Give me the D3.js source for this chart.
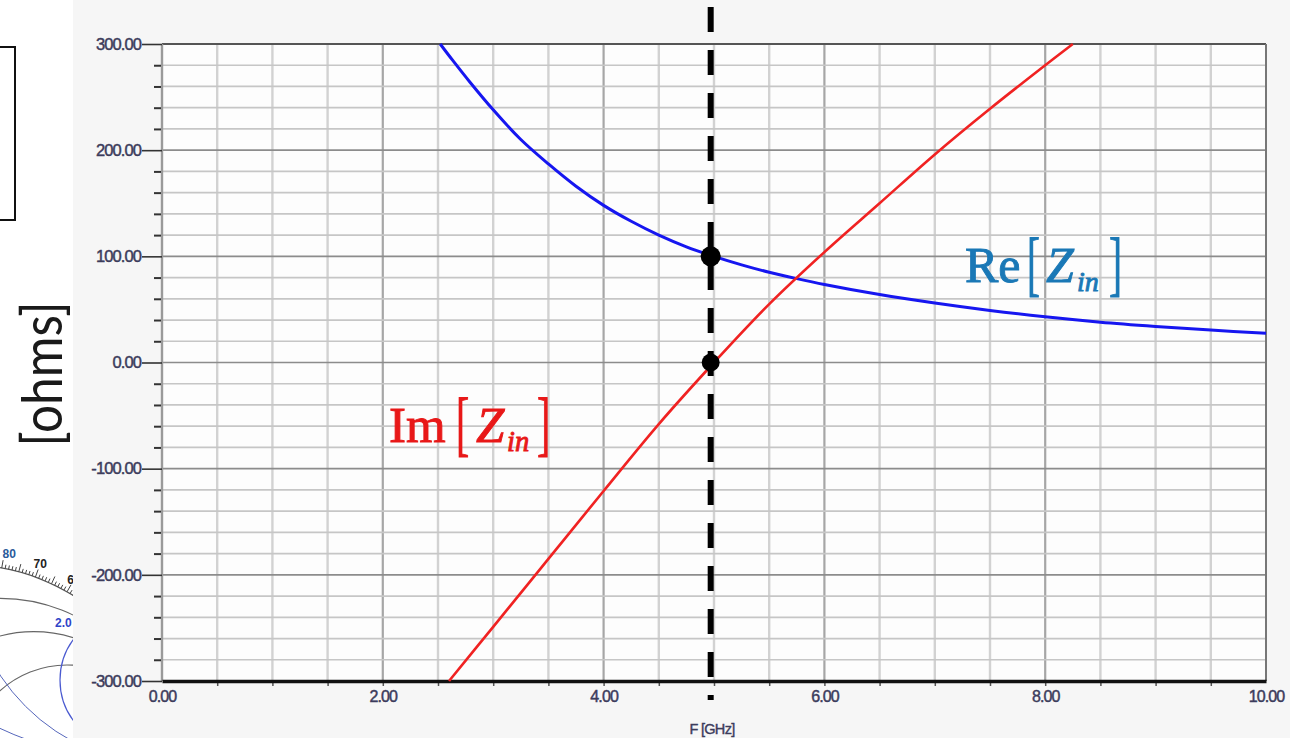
<!DOCTYPE html>
<html>
<head>
<meta charset="utf-8">
<script src="https://cdn.jsdelivr.net/npm/d3@7"></script>
<style>
  body { margin: 0; background: #fff; }
  svg { display: block; }
</style>
</head>
<body>
<svg id="chart" width="1290" height="738"></svg>
<script>
// Re[Zin] (blue) versus frequency
const reFreq = [2.52, 2.63, 2.79, 3.0, 3.25, 3.5, 3.75, 4.0, 4.25, 4.5, 4.75, 5.0, 5.25, 5.5, 5.75, 6.0, 6.5, 7.0, 7.5, 8.0, 8.5, 9.0, 9.5, 10.0];
const reOhms = [300, 285, 264, 238, 210, 187, 166, 148, 133, 120, 109, 100, 92, 85, 79, 73.5, 64, 56, 49, 43, 38, 34, 30.5, 27.5];

// Im[Zin] (red) versus frequency
const imFreq = [2.6, 3.0, 3.5, 4.0, 4.5, 5.0, 5.5, 6.0, 6.5, 7.0, 7.5, 8.0, 8.25];
const imOhms = [-300, -249, -185, -121, -58, 0, 55, 104, 150, 196, 239, 280, 300];

// axis ticks and labels
const xTickValues = [0, 2, 4, 6, 8, 10];
const xTickLabels = ["0.00", "2.00", "4.00", "6.00", "8.00", "10.00"];
const yTickValues = [300, 200, 100, 0, -100, -200, -300];
const yTickLabels = ["300.00", "200.00", "100.00", "0.00", "-100.00", "-200.00", "-300.00"];

// marker at the design frequency
const markerFreq = 4.97;
const markerOhms = [100, 0];

const svg = d3.select("#chart");

const x = d3.scaleLinear().domain([0, 10]).range([162, 1266]);
const y = d3.scaleLinear().domain([-300, 300]).range([681, 44]);

// panel backgrounds
svg.append("rect").attr("x", 73).attr("y", 0).attr("width", 1217).attr("height", 738).attr("fill", "#f6f6f6");
svg.append("rect").attr("x", x(0)).attr("y", y(300)).attr("width", x(10) - x(0)).attr("height", y(-300) - y(300)).attr("fill", "#fdfdfd");

// ---- Smith chart fragment at the lower left ----
const sc = { x: -33, y: 765, r: 200 };
const defs = svg.append("defs");
defs.append("clipPath").attr("id", "smithClip")
  .append("rect").attr("x", 0).attr("y", 540).attr("width", 73).attr("height", 198);
defs.append("clipPath").attr("id", "smithInner")
  .append("circle").attr("cx", sc.x).attr("cy", sc.y).attr("r", sc.r);

const smith = svg.append("g").attr("clip-path", "url(#smithClip)");
smith.append("circle").attr("cx", sc.x).attr("cy", sc.y).attr("r", sc.r)
  .attr("fill", "none").attr("stroke", "#555").attr("stroke-width", 1.3);
const degs = d3.range(50, 96, 1);
smith.selectAll("line.deg").data(degs).join("line")
  .attr("x1", d => sc.x + sc.r * Math.cos(d * Math.PI / 180))
  .attr("y1", d => sc.y - sc.r * Math.sin(d * Math.PI / 180))
  .attr("x2", d => sc.x + (sc.r + (d % 5 === 0 ? 8 : 4)) * Math.cos(d * Math.PI / 180))
  .attr("y2", d => sc.y - (sc.r + (d % 5 === 0 ? 8 : 4)) * Math.sin(d * Math.PI / 180))
  .attr("stroke", "#444").attr("stroke-width", 1);
// angle labels; the 80 label is nudged right so it stays on the page
const degLabels = [["80", 80, "#2a5a9a", 5], ["70", 70, "#222", 0], ["60", 60, "#222", 0]];
smith.selectAll("text.deg").data(degLabels).join("text")
  .attr("x", d => sc.x + 214 * Math.cos(d[1] * Math.PI / 180) + d[3])
  .attr("y", d => sc.y + 4 - 214 * Math.sin(d[1] * Math.PI / 180))
  .attr("text-anchor", "middle").attr("font-family", "Liberation Sans, Arial, sans-serif")
  .attr("font-size", 12).attr("font-weight", "bold").attr("fill", d => d[2]).text(d => d[0]);

const inner = smith.append("g").attr("clip-path", "url(#smithInner)");
const resist = [0.2, 0.5, 1.0];
inner.selectAll("circle.r").data(resist).join("circle")
  .attr("cx", d => sc.x + sc.r * d / (1 + d)).attr("cy", sc.y).attr("r", d => sc.r / (1 + d))
  .attr("fill", "none").attr("stroke", "#666").attr("stroke-width", 1.1);
const react = [1.0, 0.5];
inner.selectAll("circle.x").data(react).join("circle")
  .attr("cx", sc.x + sc.r).attr("cy", d => sc.y - sc.r / d).attr("r", d => sc.r / d)
  .attr("fill", "none").attr("stroke", "#5566bb").attr("stroke-width", 1);
smith.append("circle").attr("cx", 128).attr("cy", 680).attr("r", 68)
  .attr("fill", "none").attr("stroke", "#4a5ad0").attr("stroke-width", 1.2);
smith.append("text").attr("x", 55).attr("y", 627)
  .attr("font-family", "Liberation Sans, Arial, sans-serif").attr("font-size", 12).attr("font-weight", "bold")
  .attr("fill", "#2f45c8").text("2.0");

// box at the upper left
svg.append("rect").attr("x", -5).attr("y", 47).attr("width", 20).attr("height", 173)
  .attr("fill", "none").attr("stroke", "#111").attr("stroke-width", 2);

// ---- grid ----
const grid = svg.append("g");
const vMinor = d3.range(0.5, 10, 0.5).filter(v => v % 2 !== 0);
const vMajor = [2, 4, 6, 8];
grid.selectAll("line.vmin").data(vMinor).join("line")
  .attr("x1", d => x(d)).attr("x2", d => x(d)).attr("y1", y(300)).attr("y2", y(-300))
  .attr("stroke", "#d2d2d2").attr("stroke-width", 2.4);
grid.selectAll("line.vmaj").data(vMajor).join("line")
  .attr("x1", d => x(d)).attr("x2", d => x(d)).attr("y1", y(300)).attr("y2", y(-300))
  .attr("stroke", "#a6a6a6").attr("stroke-width", 2.2);
const hMinor = d3.range(-280, 300, 20).filter(v => v % 100 !== 0);
const hMajor = [-200, -100, 0, 100, 200];
grid.selectAll("line.hmin").data(hMinor).join("line")
  .attr("x1", x(0)).attr("x2", x(10)).attr("y1", d => y(d)).attr("y2", d => y(d))
  .attr("stroke", "#c6c6c6").attr("stroke-width", 1.7);
grid.selectAll("line.hmaj").data(hMajor).join("line")
  .attr("x1", x(0)).attr("x2", x(10)).attr("y1", d => y(d)).attr("y2", d => y(d))
  .attr("stroke", "#8c8c8c").attr("stroke-width", 1.7);

// frame
svg.append("line").attr("x1", x(0)).attr("x2", x(10)).attr("y1", y(300)).attr("y2", y(300))
  .attr("stroke", "#555").attr("stroke-width", 2.2);
svg.append("line").attr("x1", x(10)).attr("x2", x(10)).attr("y1", y(300)).attr("y2", y(-300))
  .attr("stroke", "#777").attr("stroke-width", 2);
svg.append("line").attr("x1", x(0)).attr("x2", x(0)).attr("y1", y(300)).attr("y2", y(-300))
  .attr("stroke", "#9a9a9a").attr("stroke-width", 2.4);

// ---- axes ----
const tickFont = "Liberation Sans, Arial, sans-serif";
const labelInk = "#3c3c5c";
const yAxis = svg.append("g").attr("transform", `translate(${x(0)},0)`)
  .call(d3.axisLeft(y).tickValues(yTickValues).tickSize(20).tickPadding(1)
    .tickFormat((d, i) => yTickLabels[i]));
yAxis.select(".domain").remove();
yAxis.selectAll(".tick line").attr("stroke", "#333").attr("stroke-width", 1.6);
yAxis.selectAll(".tick text").attr("font-family", tickFont).attr("font-size", 16.5)
  .attr("letter-spacing", -0.9).attr("fill", labelInk)
  .attr("stroke", labelInk).attr("stroke-width", 0.45);

const yMinor = svg.append("g").attr("transform", `translate(${x(0) - 1},0)`)
  .call(d3.axisLeft(y).tickValues(hMinor).tickSize(7).tickFormat(""));
yMinor.select(".domain").remove();
yMinor.selectAll(".tick line").attr("stroke", "#333").attr("stroke-width", 2);

const xMinor = svg.append("g").attr("transform", `translate(0,${y(-300)})`)
  .call(d3.axisBottom(x).tickValues(d3.range(0.5, 10, 0.5)).tickSize(5).tickFormat(""));
xMinor.select(".domain").remove();
xMinor.selectAll(".tick line").attr("stroke", "#555").attr("stroke-width", 1.5);

const xAxis = svg.append("g").attr("transform", `translate(0,${y(-300)})`)
  .call(d3.axisBottom(x).tickValues(xTickValues).tickSize(0).tickPadding(10)
    .tickFormat((d, i) => xTickLabels[i]));
xAxis.select(".domain").attr("stroke", "#111").attr("stroke-width", 3.5);
xAxis.selectAll(".tick text").attr("font-family", tickFont).attr("font-size", 16)
  .attr("letter-spacing", -0.9).attr("fill", labelInk)
  .attr("stroke", labelInk).attr("stroke-width", 0.45);

svg.append("text").attr("x", 712).attr("y", 734).attr("text-anchor", "middle")
  .attr("font-family", tickFont).attr("font-size", 14.5).attr("letter-spacing", -0.7)
  .attr("fill", labelInk).attr("stroke", labelInk).attr("stroke-width", 0.4).text("F [GHz]");

// y axis unit label
svg.append("text").attr("transform", "translate(62,374) rotate(-90)")
  .attr("text-anchor", "middle").attr("font-family", "Lato, 'Open Sans', sans-serif")
  .attr("font-size", 56).attr("fill", "#1a1a1a")
  .attr("textLength", 145).attr("lengthAdjust", "spacingAndGlyphs")
  .text("[ohms]");

// ---- curves ----
const reData = reFreq.map((f, i) => [f, reOhms[i]]);
const imData = imFreq.map((f, i) => [f, imOhms[i]]);
const line = d3.line().x(d => x(d[0])).y(d => y(d[1])).curve(d3.curveCatmullRom);

svg.append("path").datum(reData).attr("d", line)
  .attr("fill", "none").attr("stroke", "#1616f0").attr("stroke-width", 3);
svg.append("path").datum(imData).attr("d", line)
  .attr("fill", "none").attr("stroke", "#f02222").attr("stroke-width", 2.6);

// dashed marker line and points
svg.append("line").attr("x1", x(markerFreq)).attr("x2", x(markerFreq)).attr("y1", 7).attr("y2", 700)
  .attr("stroke", "#000").attr("stroke-width", 6).attr("stroke-dasharray", "25 18");
svg.selectAll("circle.pt").data(markerOhms).join("circle")
  .attr("cx", x(markerFreq)).attr("cy", d => y(d)).attr("r", (d, i) => i === 0 ? 10 : 9)
  .attr("fill", "#000");

// ---- curve labels ----
function curveLabel(g, opts) {
  const serif = "Liberation Serif, 'Times New Roman', serif";
  const ink = (sel) => sel.attr("fill", opts.color).attr("stroke", opts.color).attr("stroke-width", 0.9);
  g.append("text").attr("x", opts.x).attr("y", opts.base).attr("font-family", serif)
    .attr("font-size", opts.size).call(ink).text(opts.name);
  g.append("text").attr("transform", `translate(${opts.lb},${opts.base + 5}) scale(0.55,1)`)
    .attr("font-family", serif).attr("font-size", opts.size * 1.42).call(ink).text("[");
  g.append("text").attr("x", opts.zx).attr("y", opts.base).attr("font-family", serif)
    .attr("font-style", "italic").attr("font-size", opts.size).call(ink).text("Z");
  g.append("text").attr("x", opts.zx + 31).attr("y", opts.base + 9).attr("font-family", serif)
    .attr("font-style", "italic").attr("font-size", opts.size * 0.56).call(ink).text("in");
  g.append("text").attr("transform", `translate(${opts.rb},${opts.base + 5}) scale(0.55,1)`)
    .attr("font-family", serif).attr("font-size", opts.size * 1.42).call(ink).text("]");
}
curveLabel(svg.append("g"), { name: "Re", x: 965, base: 282, size: 50, color: "#1a78b6", lb: 1027, zx: 1046, rb: 1109 });
curveLabel(svg.append("g"), { name: "Im", x: 389, base: 442, size: 51, color: "#e81818", lb: 456, zx: 476, rb: 537 });
</script>
</body>
</html>
